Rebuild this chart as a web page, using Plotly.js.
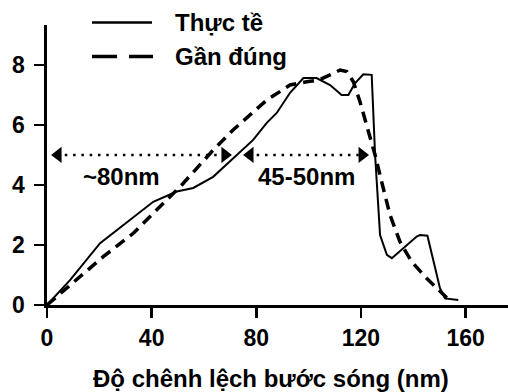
<!DOCTYPE html>
<html>
<head>
<meta charset="utf-8">
<script src="https://cdn.plot.ly/plotly-3.0.1.min.js"></script>
<style>html,body{margin:0;padding:0;background:#fff;}#chart{width:508px;height:392px;}</style>
</head>
<body>
<div id="chart"></div>
<script>
// ---- data ----
const actualX = [0, 8.8, 20.3, 34.3, 40.6, 49.6, 55.9, 63.5, 72.5, 78.8, 84, 87.8, 92.9, 98, 103, 108.2, 112.6, 115.2, 117.7, 120.9, 124.1, 125.4, 127.3, 129.9, 131.8, 141.3, 142.6, 145.4, 150.2, 152.1, 157.2];
const actualY = [0, 0.83, 2.06, 3.0, 3.44, 3.78, 3.9, 4.27, 5.0, 5.5, 6.07, 6.4, 7.07, 7.56, 7.56, 7.33, 7.0, 7.0, 7.39, 7.69, 7.67, 5.0, 2.33, 1.67, 1.56, 2.28, 2.33, 2.31, 0.56, 0.22, 0.17];
const approxX = [0, 8.8, 21.5, 33, 47, 51.5, 63.6, 71.1, 84, 92.9, 99.3, 104, 108.2, 112, 114.6, 117.1, 119.6, 122.8, 125.4, 127.9, 131.1, 134.9, 139.4, 145.1, 150.2, 152.8, 155.3];
const approxY = [0, 0.67, 1.61, 2.39, 3.61, 4.0, 5.17, 5.83, 6.83, 7.33, 7.44, 7.5, 7.67, 7.83, 7.78, 7.44, 6.78, 5.78, 5.0, 4.11, 3.0, 2.11, 1.44, 0.89, 0.44, 0.24, 0.2];
const seriesNames = ["Thực tề", "Gần đúng"];
const xTicks = [0, 40, 80, 120, 160];
const yTicks = [0, 2, 4, 6, 8];
const xTitle = "Độ chênh lệch bước sóng (nm)";
// width markers (dotted double arrows)
const spanStarts = [1.15, 74.5];
const spanEnds = [71.1, 123.5];
const spanLevel = 5;
const spanLabels = ["~80nm", "45-50nm"];
const spanLabelX = [28.3, 99.3];
const spanLabelY = 4.28;

// ---- layout geometry ----
const W = 508, H = 392;
const M = {l: 47, r: 0, t: 25, b: 87};
const xRange = [0, 176.2];
const yRange = [0, 9.33];
const pxPerX = (W - M.l - M.r) / (xRange[1] - xRange[0]);
const arrowSize = 14;
const tipOff = (arrowSize / Math.sqrt(3)) / pxPerX;

const FONT = {family: '"Liberation Sans", Arial, Helvetica, sans-serif', color: '#000', weight: 700};

const traces = [
  {x: actualX, y: actualY, mode: 'lines', name: seriesNames[0],
   line: {color: '#000', width: 2}, showlegend: false, hoverinfo: 'skip'},
  {x: approxX, y: approxY, mode: 'lines', name: seriesNames[1],
   line: {color: '#000', width: 3.5, dash: '11px,7px'}, showlegend: false, hoverinfo: 'skip'}
];
spanStarts.forEach((s, i) => {
  const e = spanEnds[i];
  traces.push({x: [s + tipOff * 0.8, e - tipOff * 0.8], y: [spanLevel, spanLevel], mode: 'lines',
    line: {color: '#000', width: 2.5, dash: '2.5px,5.8px'}, showlegend: false, hoverinfo: 'skip'});
  traces.push({x: [s + tipOff, e - tipOff], y: [spanLevel, spanLevel], mode: 'markers',
    marker: {symbol: ['triangle-left', 'triangle-right'], size: arrowSize, color: '#000', line: {width: 0}},
    showlegend: false, hoverinfo: 'skip', cliponaxis: false});
});

const plotW = W - M.l - M.r, plotH = H - M.t - M.b;
const px2paperX = p => (p - M.l) / plotW;
const px2paperY = p => (H - M.b - p) / plotH;

const legendRows = [22.5, 56.5];
const shapes = [
  {type: 'line', xref: 'paper', yref: 'paper', x0: px2paperX(92), x1: px2paperX(152),
   y0: px2paperY(legendRows[0]), y1: px2paperY(legendRows[0]), line: {color: '#000', width: 2.5}},
  {type: 'line', xref: 'paper', yref: 'paper', x0: px2paperX(92), x1: px2paperX(153),
   y0: px2paperY(legendRows[1]), y1: px2paperY(legendRows[1]), line: {color: '#000', width: 3.5, dash: '25px,12px'}}
];

const annotations = [];
seriesNames.forEach((n, i) => {
  annotations.push({xref: 'paper', yref: 'paper', x: px2paperX(173), y: px2paperY(legendRows[i]),
    xanchor: 'left', yanchor: 'middle', text: n, showarrow: false, font: Object.assign({size: 24}, FONT)});
});
spanLabels.forEach((t, i) => {
  annotations.push({x: spanLabelX[i], y: spanLabelY, text: t, showarrow: false,
    xanchor: 'center', yanchor: 'middle', font: Object.assign({size: 24}, FONT)});
});
annotations.push({xref: 'paper', yref: 'paper', x: px2paperX(271), y: px2paperY(378),
  xanchor: 'center', yanchor: 'middle', text: xTitle, showarrow: false, font: Object.assign({size: 24}, FONT)});
// y tick labels placed with a wider gap from the ticks
yTicks.forEach(v => {
  annotations.push({xref: 'paper', yref: 'y', x: px2paperX(27), y: v, xanchor: 'right', yanchor: 'middle',
    text: String(v), showarrow: false, font: Object.assign({size: 23}, FONT)});
});

const axisCommon = {
  showgrid: false, zeroline: false, showline: true, linecolor: '#000', linewidth: 3,
  ticks: 'outside', ticklen: 10, tickwidth: 2.5, tickcolor: '#000',
  tickfont: Object.assign({size: 23}, FONT), fixedrange: true
};

const layout = {
  width: W, height: H, margin: M, paper_bgcolor: '#fff', plot_bgcolor: '#fff',
  showlegend: false, font: FONT,
  xaxis: Object.assign({}, axisCommon, {range: xRange, tickvals: xTicks, ticktext: xTicks.map(String)}),
  yaxis: Object.assign({}, axisCommon, {range: yRange, tickvals: yTicks, showticklabels: false}),
  shapes: shapes, annotations: annotations
};

Plotly.newPlot('chart', traces, layout, {staticPlot: true, displayModeBar: false});
</script>
</body>
</html>
